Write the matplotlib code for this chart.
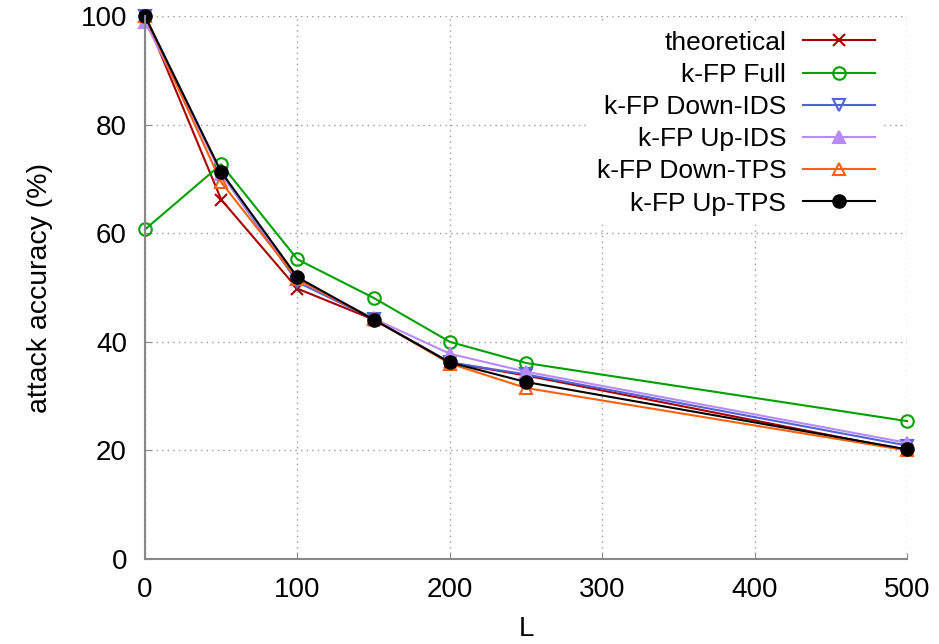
import matplotlib
matplotlib.use('Agg')
import matplotlib.pyplot as plt

plt.rcParams['font.family'] = ['Liberation Sans', 'DejaVu Sans']

# Werte
L = [0, 50, 100, 150, 200, 250, 500]
theoretical = [100, 66.2, 49.8, 44.1, 36.2, 33.8, 20.0]
kfp_full = [60.7, 72.7, 55.2, 48.1, 40.0, 36.1, 25.4]
kfp_down_ids = [100, 71.0, 51.0, 44.2, 36.2, 34.0, 20.9]
kfp_up_ids = [99.0, 71.0, 51.5, 44.3, 37.8, 34.5, 21.4]
kfp_down_tps = [100, 69.4, 51.5, 44.2, 36.0, 31.5, 20.0]
kfp_up_tps = [100, 71.3, 51.9, 44.1, 36.2, 32.6, 20.2]

series = [
    ('theoretical', theoretical, '#a80000', 'x', 'none'),
    ('k-FP Full', kfp_full, '#00a000', 'o', 'none'),
    ('k-FP Down-IDS', kfp_down_ids, '#5063d8', 'v', 'none'),
    ('k-FP Up-IDS', kfp_up_ids, '#b88aff', '^', 'fill'),
    ('k-FP Down-TPS', kfp_down_tps, '#ff6010', '^', 'none'),
    ('k-FP Up-TPS', kfp_up_tps, 'black', 'o', 'fill'),
]

fig = plt.figure(figsize=(9.39, 6.44), dpi=100)
ax = fig.add_axes([0.1544, 0.132, 0.8116, 0.843])

for name, vals, col, m, fill in series:
    fc = col if fill == 'fill' else 'none'
    ax.plot(L, vals, color=col, marker=m, markersize=9, markerfacecolor=fc,
            markeredgecolor=col, markeredgewidth=1.5, linewidth=1.5,
            label=name, clip_on=False)

ax.set_xlim(0, 500)
ax.set_ylim(0, 100)
ax.set_xticks([0, 100, 200, 300, 400, 500])
ax.set_yticks([0, 20, 40, 60, 80, 100])
ax.tick_params(labelsize=20, direction='in', length=4, color='#888888', pad=13)
ax.grid(True, linestyle=(0, (1, 3)), color='#999999', linewidth=1)
ax.set_axisbelow(True)
for s in ['top', 'right']:
    ax.spines[s].set_visible(False)
for s in ['left', 'bottom']:
    ax.spines[s].set_color('#888888')
    ax.spines[s].set_linewidth(1.5)

ax.set_xlabel('L', fontsize=20, labelpad=9)
ax.set_ylabel('attack accuracy (%)', fontsize=20.5, labelpad=20)

leg = ax.legend(loc='upper right', bbox_to_anchor=(0.985, 1.012), markerfirst=False,
                frameon=True, fancybox=False, fontsize=19, handlelength=2.7,
                labelspacing=0.31, borderpad=0.3, handletextpad=0.65)
leg.get_frame().set_edgecolor('white')
leg.get_frame().set_facecolor('white')
leg.get_frame().set_alpha(1)
for t in leg.get_texts():
    t.set_ha('right')
leg._legend_box.align = 'right'

fig.savefig('out.png', dpi=100)
